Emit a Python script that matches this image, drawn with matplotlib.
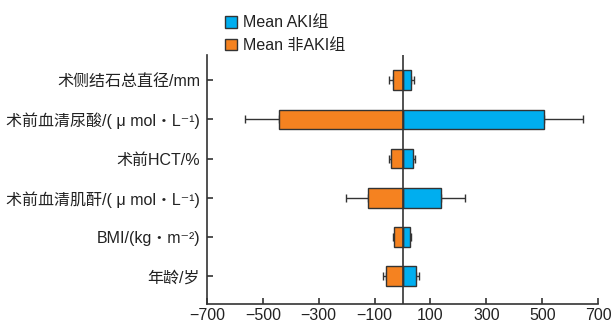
import matplotlib
matplotlib.use("Agg")
import matplotlib.pyplot as plt
from matplotlib.patches import Patch

plt.rcParams['font.family'] = ['Liberation Sans', 'Noto Sans CJK SC', 'DejaVu Sans']
plt.rcParams['axes.unicode_minus'] = True

categories = ['术侧结石总直径/mm', '术前血清尿酸/( μ mol・L⁻¹)', '术前HCT/%',
              '术前血清肌酐/( μ mol・L⁻¹)', 'BMI/(kg・m⁻²)', '年龄/岁']
aki_mean = [29, 508, 36, 138, 26, 47]
aki_err = [12, 137, 7, 87, 4, 12]
non_mean = [34, 442, 43, 122, 29, 58]
non_err = [16, 121, 7, 81, 5, 11]
xticks = [-700, -500, -300, -100, 100, 300, 500, 700]
legend_labels = ['Mean AKI组', 'Mean 非AKI组']

blue = '#00AEEF'
orange = '#F58220'
dark = '#333333'

fig = plt.figure(figsize=(6.16, 3.24), dpi=100)
ax = fig.add_axes([0.336, 0.0617, 0.635, 0.7683])

n = len(categories)
ypos = [n - 1 - i for i in range(n)]
neg = [-v for v in non_mean]

ax.barh(ypos, aki_mean, height=0.5, color=blue, edgecolor=dark, linewidth=1.0, zorder=2)
ax.barh(ypos, neg, height=0.5, color=orange, edgecolor=dark, linewidth=1.0, zorder=2)
ax.errorbar(aki_mean, ypos, xerr=[[0] * n, aki_err], fmt='none', ecolor=dark,
            elinewidth=1.0, capsize=3.2, capthick=1.0, zorder=1)
ax.errorbar(neg, ypos, xerr=[non_err, [0] * n], fmt='none', ecolor=dark,
            elinewidth=1.0, capsize=3.2, capthick=1.0, zorder=1)
ax.axvline(0, color=dark, linewidth=1.2, zorder=3)

ax.set_xlim(-700, 700)
ax.set_ylim(-0.71, n - 1 + 0.64)
ax.set_xticks(xticks)
ax.set_yticks(ypos)
ax.set_yticklabels(categories)
ax.tick_params(axis='both', direction='in', length=4, width=1.2, color=dark,
               labelsize=11.5, labelcolor='#222222')
ax.tick_params(axis='y', pad=5)
ax.tick_params(axis='x', pad=3)
for s in ['top', 'right']:
    ax.spines[s].set_visible(False)
for s in ['left', 'bottom']:
    ax.spines[s].set_color(dark)
    ax.spines[s].set_linewidth(1.2)

handles = [Patch(facecolor=blue, edgecolor=dark, linewidth=1.0),
           Patch(facecolor=orange, edgecolor=dark, linewidth=1.0)]
leg = fig.legend(handles, legend_labels, loc='upper left', bbox_to_anchor=(0.365, 0.953),
                 frameon=False, fontsize=11.5, handlelength=0.75, handleheight=0.75,
                 handletextpad=0.4, labelspacing=0.5, borderaxespad=0, borderpad=0)
for t in leg.get_texts():
    t.set_color('#222222')

fig.savefig('out.png', dpi=100)
